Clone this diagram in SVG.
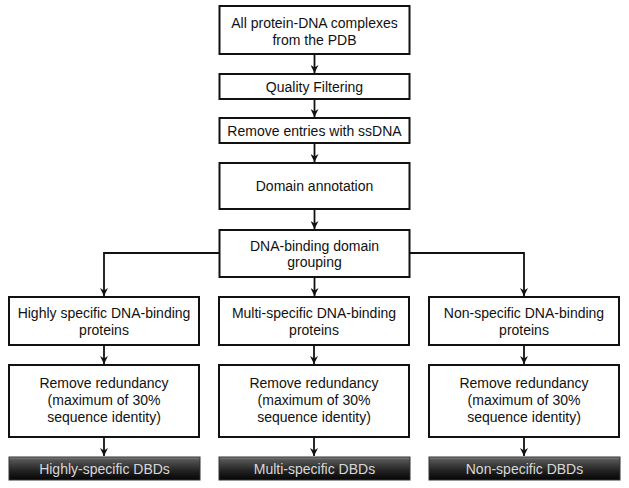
<svg xmlns="http://www.w3.org/2000/svg" width="629" height="488" viewBox="0 0 629 488">
<style>
.box{fill:#fff;stroke:#111;stroke-width:2}
.dark{fill:url(#g);stroke:#333;stroke-width:1}
.t{font-family:"Liberation Sans",Arial,sans-serif;font-size:14px;fill:#111;text-anchor:middle}
.tl{font-family:"Liberation Sans",Arial,sans-serif;font-size:14px;fill:#d8d8d8;text-anchor:middle}
.c{fill:none;stroke:#111;stroke-width:1.8}
</style>
<defs>
<linearGradient id="g" x1="0" y1="0" x2="0" y2="1">
<stop offset="0" stop-color="#8a8a8a"/>
<stop offset="0.12" stop-color="#555"/>
<stop offset="0.6" stop-color="#222"/>
<stop offset="1" stop-color="#050505"/>
</linearGradient>
<marker id="a" viewBox="0 0 10 10" refX="10" refY="5" markerWidth="8" markerHeight="8" markerUnits="userSpaceOnUse" orient="auto">
<path d="M0,0 L10,5 L0,10 L3,5 Z" fill="#111"/>
</marker>
</defs>
<g id="connectors">
<line class="c" x1="314.5" y1="54" x2="314.5" y2="73" marker-end="url(#a)"/>
<line class="c" x1="314.5" y1="99" x2="314.5" y2="117" marker-end="url(#a)"/>
<line class="c" x1="314.5" y1="143" x2="314.5" y2="162" marker-end="url(#a)"/>
<line class="c" x1="314.5" y1="209" x2="314.5" y2="229" marker-end="url(#a)"/>
<line class="c" x1="314.5" y1="277" x2="314.5" y2="296" marker-end="url(#a)"/>
<polyline class="c" points="220,253 104,253 104,296" marker-end="url(#a)"/>
<polyline class="c" points="409,253 524,253 524,296" marker-end="url(#a)"/>
<line class="c" x1="104" y1="345" x2="104" y2="364" marker-end="url(#a)"/>
<line class="c" x1="314" y1="345" x2="314" y2="364" marker-end="url(#a)"/>
<line class="c" x1="524" y1="345" x2="524" y2="364" marker-end="url(#a)"/>
<line class="c" x1="104" y1="437" x2="104" y2="456" marker-end="url(#a)"/>
<line class="c" x1="314" y1="437" x2="314" y2="456" marker-end="url(#a)"/>
<line class="c" x1="524" y1="437" x2="524" y2="456" marker-end="url(#a)"/>
</g>
<g id="n1"><rect class="box" x="219.5" y="6" width="190" height="48"/><text class="t" x="314.5" y="28">All protein-DNA complexes</text><text class="t" x="314.5" y="45">from the PDB</text></g>
<g id="n2"><rect class="box" x="219.5" y="74" width="190" height="25"/><text class="t" x="314.5" y="92">Quality Filtering</text></g>
<g id="n3"><rect class="box" x="219.5" y="118" width="190" height="25"/><text class="t" x="314.5" y="136">Remove entries with ssDNA</text></g>
<g id="n4"><rect class="box" x="219.5" y="163" width="190" height="46"/><text class="t" x="314.5" y="191">Domain annotation</text></g>
<g id="n5"><rect class="box" x="219.5" y="230" width="190" height="47"/><text class="t" x="314.5" y="251">DNA-binding domain</text><text class="t" x="314.5" y="267">grouping</text></g>
<g id="n6"><rect class="box" x="9" y="297" width="190" height="48"/><text class="t" x="104" y="318">Highly specific DNA-binding</text><text class="t" x="104" y="335">proteins</text></g>
<g id="n7"><rect class="box" x="219" y="297" width="190" height="48"/><text class="t" x="314" y="318">Multi-specific DNA-binding</text><text class="t" x="314" y="335">proteins</text></g>
<g id="n8"><rect class="box" x="429" y="297" width="190" height="48"/><text class="t" x="524" y="318">Non-specific DNA-binding</text><text class="t" x="524" y="335">proteins</text></g>
<g id="n9"><rect class="box" x="9" y="365" width="190" height="72"/><text class="t" x="104" y="388">Remove redundancy</text><text class="t" x="104" y="405">(maximum of 30%</text><text class="t" x="104" y="422">sequence identity)</text></g>
<g id="n10"><rect class="box" x="219" y="365" width="190" height="72"/><text class="t" x="314" y="388">Remove redundancy</text><text class="t" x="314" y="405">(maximum of 30%</text><text class="t" x="314" y="422">sequence identity)</text></g>
<g id="n11"><rect class="box" x="429" y="365" width="190" height="72"/><text class="t" x="524" y="388">Remove redundancy</text><text class="t" x="524" y="405">(maximum of 30%</text><text class="t" x="524" y="422">sequence identity)</text></g>
<g id="n12"><rect class="dark" x="9" y="457" width="191" height="23"/><text class="tl" x="104.5" y="474">Highly-specific DBDs</text></g>
<g id="n13"><rect class="dark" x="219" y="457" width="191" height="23"/><text class="tl" x="314.5" y="474">Multi-specific DBDs</text></g>
<g id="n14"><rect class="dark" x="429" y="457" width="191" height="23"/><text class="tl" x="524.5" y="474">Non-specific DBDs</text></g>
</svg>
